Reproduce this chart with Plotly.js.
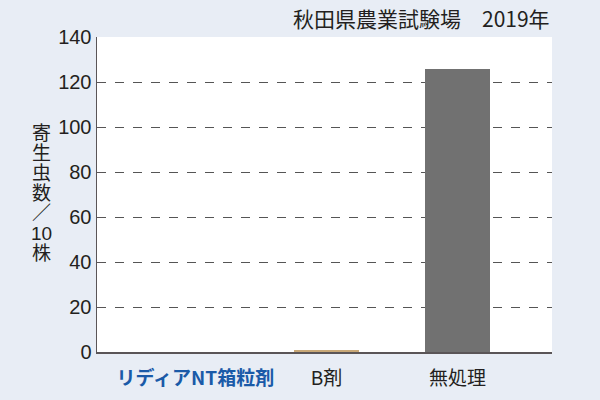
<!DOCTYPE html>
<html><head><meta charset="utf-8">
<script src="https://cdn.plot.ly/plotly-3.0.1.min.js"></script>
<style>body{margin:0;background:#e8edf5}</style>
</head><body><div id="c" style="width:600px;height:400px"></div>
<script>
const categories = ["リディアNT箱粒剤", "B剤", "無処理"];
const values = [0, 1, 126];
const barColors = ["#3a6fb5", "#c8a877", "#717171"];
const tickVals = [0, 20, 40, 60, 80, 100, 120, 140];
const tickLabels = ["<span style='color:#1a5aa8;font-weight:bold'>リディアNT箱粒剤</span>", "B剤", "無処理"];
const yTitleChars = ["寄", "生", "虫", "数", "／", "10", "株"];
const chartTitle = "秋田県農業試験場　2019年";

const data = [{
  type: "bar", x: categories, y: values, width: 0.5,
  marker: {color: barColors}, hoverinfo: "none"
}];
const annotations = [
  {text: chartTitle, xref: "paper", yref: "paper", x: 1, y: 1, yshift: 19,
   xanchor: "right", yanchor: "middle", showarrow: false, font: {size: 21}}
];
yTitleChars.forEach((ch, i) => {
  annotations.push({text: ch, xref: "paper", yref: "paper", x: 0, xshift: -56,
    y: 1, yshift: -(96 + i * 20), xanchor: "center", yanchor: "middle",
    showarrow: false, borderpad: 0,
    font: {size: 19, family: "'Liberation Sans', 'Noto Sans CJK JP', sans-serif"}});
});
const layout = {
  width: 600, height: 400,
  paper_bgcolor: "#e8edf5", plot_bgcolor: "#ffffff",
  margin: {l: 97, r: 48, t: 37, b: 48},
  font: {family: "'Noto Sans CJK JP', 'Liberation Sans', sans-serif", color: "#231f20", size: 16},
  showlegend: false,
  bargap: 0,
  xaxis: {
    range: [-0.75, 2.72], tickvals: categories, ticktext: tickLabels,
    showline: true, linecolor: "#5a5557", linewidth: 2, ticks: "", showgrid: false,
    tickfont: {size: 19}, ticklabelstandoff: 8, fixedrange: true
  },
  yaxis: {
    range: [0, 140], tickvals: tickVals, showline: true, linecolor: "#5a5557", linewidth: 1.5,
    ticks: "inside", ticklen: 5, tickcolor: "#5a5557",
    showgrid: true, gridcolor: "#555", griddash: "dash", gridwidth: 1,
    tickfont: {family: "'Liberation Sans', sans-serif", size: 20},
    zeroline: false, fixedrange: true
  },
  annotations: annotations
};
Plotly.newPlot("c", data, layout, {displayModeBar: false, staticPlot: true});
</script></body></html>
